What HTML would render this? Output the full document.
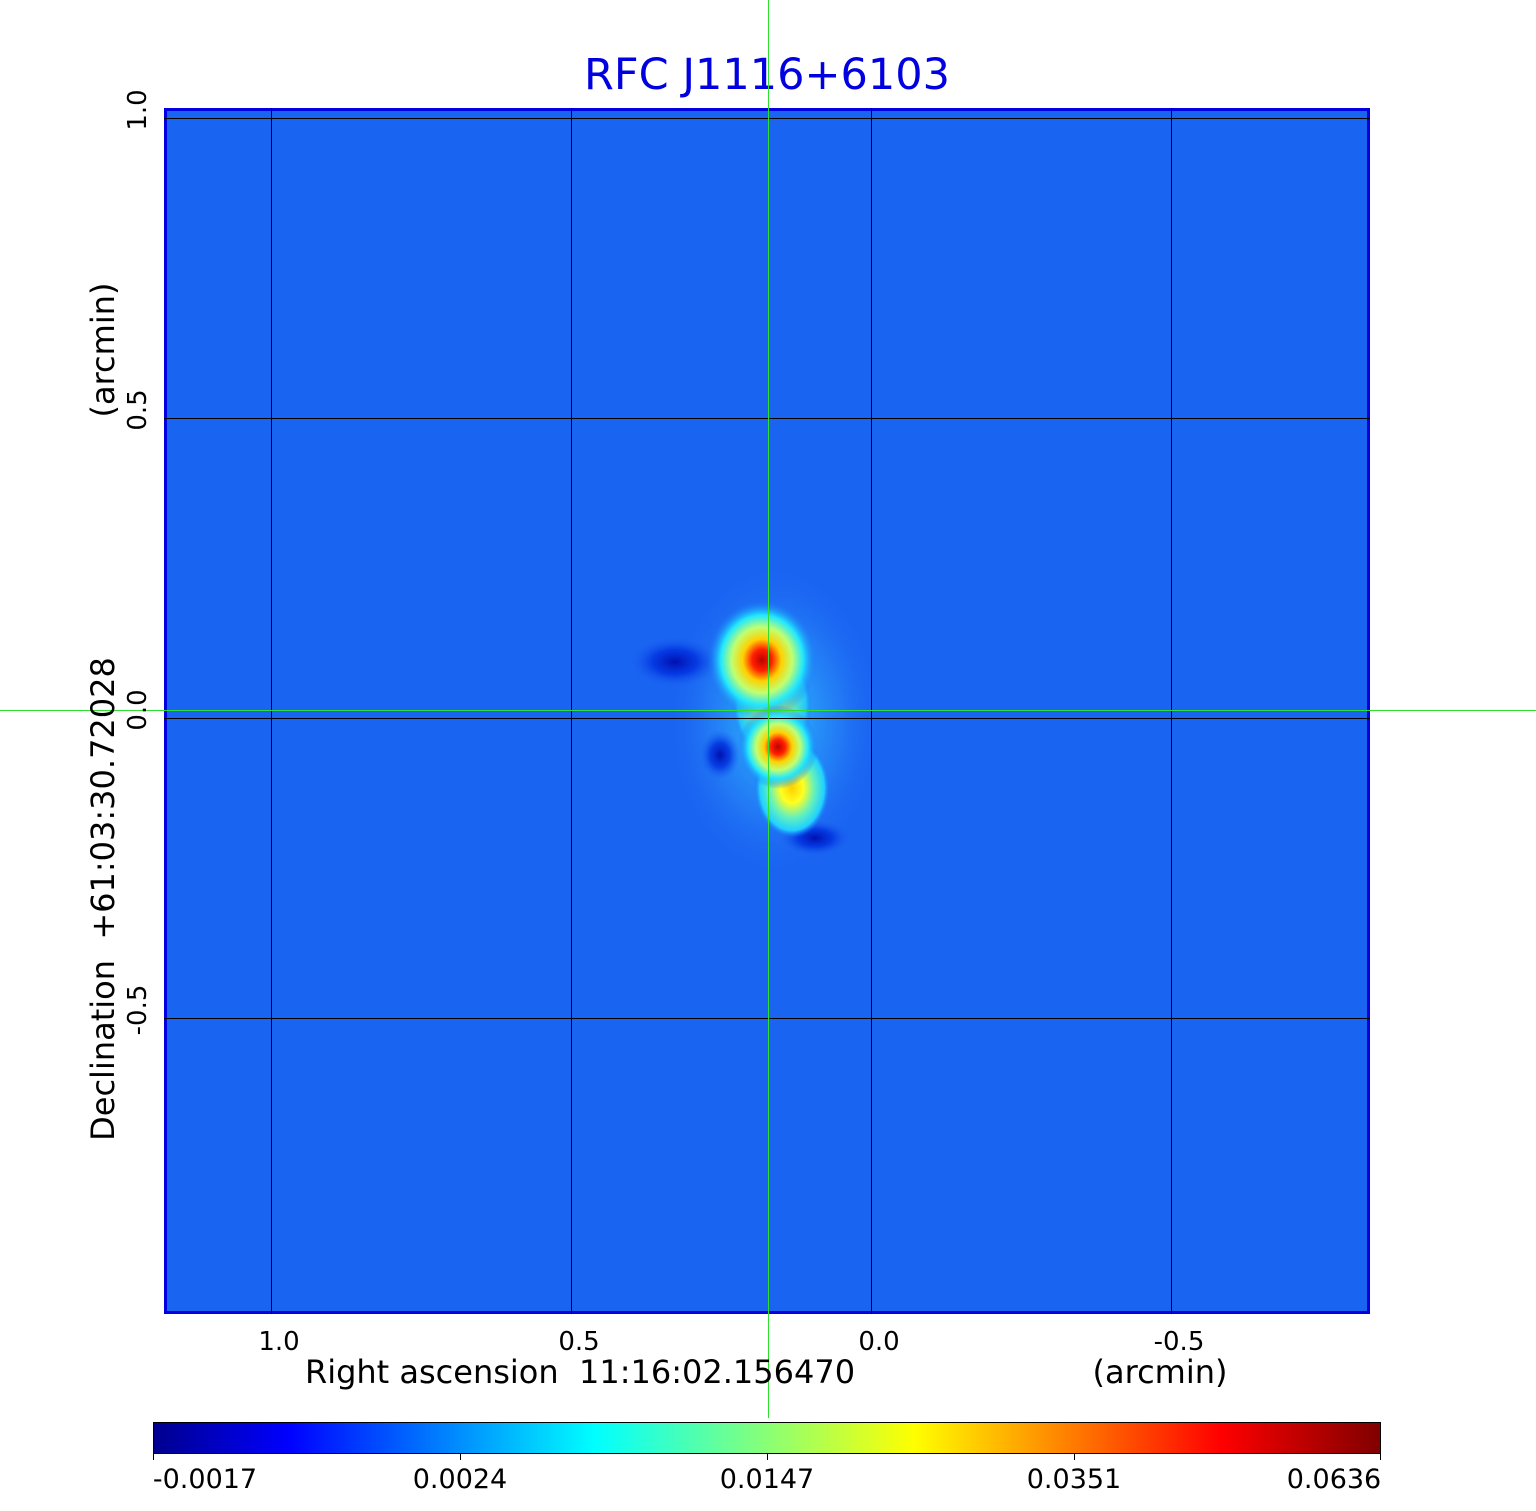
<!DOCTYPE html>
<html><head><meta charset="utf-8"><style>
html,body{margin:0;padding:0;background:#fff;}
svg{display:block;font-family:"DejaVu Sans","Liberation Sans",sans-serif;}
</style></head><body>
<svg width="1536" height="1511" xmlns="http://www.w3.org/2000/svg">
<defs>
<radialGradient id="hot">
<stop offset="0" stop-color="#c00000"/>
<stop offset="0.18" stop-color="#ff2000"/>
<stop offset="0.35" stop-color="#ffd000"/>
<stop offset="0.55" stop-color="#c0ff70"/>
<stop offset="0.75" stop-color="#20e8ff"/>
<stop offset="1" stop-color="#1a6cf5" stop-opacity="0"/>
</radialGradient>
<radialGradient id="warm">
<stop offset="0" stop-color="#ffd000"/>
<stop offset="0.3" stop-color="#ffff20"/>
<stop offset="0.6" stop-color="#60f0c0"/>
<stop offset="0.85" stop-color="#20d0ff"/>
<stop offset="1" stop-color="#1a6cf5" stop-opacity="0"/>
</radialGradient>
<radialGradient id="dark">
<stop offset="0" stop-color="#0010b0"/>
<stop offset="0.5" stop-color="#0030e0" stop-opacity="0.8"/>
<stop offset="1" stop-color="#1a60ef" stop-opacity="0"/>
</radialGradient>
<radialGradient id="halo">
<stop offset="0" stop-color="#30d0ff" stop-opacity="0.95"/>
<stop offset="0.6" stop-color="#2a90f8" stop-opacity="0.5"/>
<stop offset="1" stop-color="#1a60ef" stop-opacity="0"/>
</radialGradient>
<linearGradient id="jet" x1="0" x2="1" y1="0" y2="0">
<stop offset="0" stop-color="#00008f"/>
<stop offset="0.11" stop-color="#0000ff"/>
<stop offset="0.36" stop-color="#00ffff"/>
<stop offset="0.62" stop-color="#ffff00"/>
<stop offset="0.87" stop-color="#ff0000"/>
<stop offset="1" stop-color="#800000"/>
</linearGradient>
</defs>
<text x="767" y="89" fill="#0000e0" font-size="43" text-anchor="middle">RFC J1116+6103</text>
<rect x="164" y="108" width="1206" height="1206" fill="#1a64f2"/>
<ellipse cx="775" cy="720" rx="110" ry="160" fill="url(#halo)"/>
<ellipse cx="675" cy="662" rx="45" ry="25" fill="url(#dark)"/>
<ellipse cx="815" cy="838" rx="35" ry="18" fill="url(#dark)"/>
<ellipse cx="720" cy="755" rx="20" ry="25" fill="url(#dark)"/>
<ellipse cx="772" cy="705" rx="40" ry="55" fill="url(#warm)" opacity="0.8"/>
<ellipse cx="792" cy="788" rx="38" ry="50" fill="url(#warm)"/>
<ellipse cx="762" cy="660" rx="55" ry="60" fill="url(#hot)"/>
<ellipse cx="778" cy="747" rx="40" ry="42" fill="url(#hot)"/>
<rect x="165.5" y="109.5" width="1203" height="1203" fill="none" stroke="#0000e0" stroke-width="3"/>
<g stroke="#000" stroke-width="1">
<line x1="271.5" y1="108" x2="271.5" y2="1314"/>
<line x1="571.5" y1="108" x2="571.5" y2="1314"/>
<line x1="871.5" y1="108" x2="871.5" y2="1314"/>
<line x1="1171.5" y1="108" x2="1171.5" y2="1314"/>
<line x1="164" y1="118.5" x2="1370" y2="118.5"/>
<line x1="164" y1="418.5" x2="1370" y2="418.5"/>
<line x1="164" y1="718.5" x2="1370" y2="718.5"/>
<line x1="164" y1="1018.5" x2="1370" y2="1018.5"/>
</g>
<g stroke="#30e030" stroke-width="1">
<line x1="768.5" y1="0" x2="768.5" y2="1418"/>
<line x1="0" y1="710.5" x2="1536" y2="710.5"/>
</g>
<g font-size="26" fill="#000" text-anchor="middle">
<text x="279" y="1350">1.0</text>
<text x="579" y="1350">0.5</text>
<text x="879" y="1350">0.0</text>
<text x="1179" y="1350">-0.5</text>
</g>
<text x="580" y="1383" font-size="32" text-anchor="middle">Right ascension&#160;&#160;11:16:02.156470</text>
<text x="1160" y="1383" font-size="32" text-anchor="middle">(arcmin)</text>
<g font-size="26" fill="#000" text-anchor="middle">
<text transform="translate(146,110) rotate(-90)">1.0</text>
<text transform="translate(146,410) rotate(-90)">0.5</text>
<text transform="translate(146,710) rotate(-90)">0.0</text>
<text transform="translate(146,1010) rotate(-90)">-0.5</text>
</g>
<text transform="translate(114,350) rotate(-90)" font-size="32" text-anchor="middle">(arcmin)</text>
<text transform="translate(114,899) rotate(-90)" font-size="32" text-anchor="middle">Declination&#160;&#160;+61:03:30.72028</text>
<rect x="153.5" y="1422.5" width="1227" height="31" fill="url(#jet)" stroke="#000" stroke-width="1"/>
<g stroke="#000"><line x1="153.5" y1="1454" x2="153.5" y2="1460"/><line x1="460.5" y1="1454" x2="460.5" y2="1460"/><line x1="767.5" y1="1454" x2="767.5" y2="1460"/><line x1="1074.5" y1="1454" x2="1074.5" y2="1460"/><line x1="1380.5" y1="1454" x2="1380.5" y2="1460"/></g>
<g font-size="27" fill="#000" text-anchor="middle">
<text x="205" y="1488">-0.0017</text>
<text x="460" y="1488">0.0024</text>
<text x="767" y="1488">0.0147</text>
<text x="1074" y="1488">0.0351</text>
<text x="1334" y="1488">0.0636</text>
</g>
</svg>
</body></html>
